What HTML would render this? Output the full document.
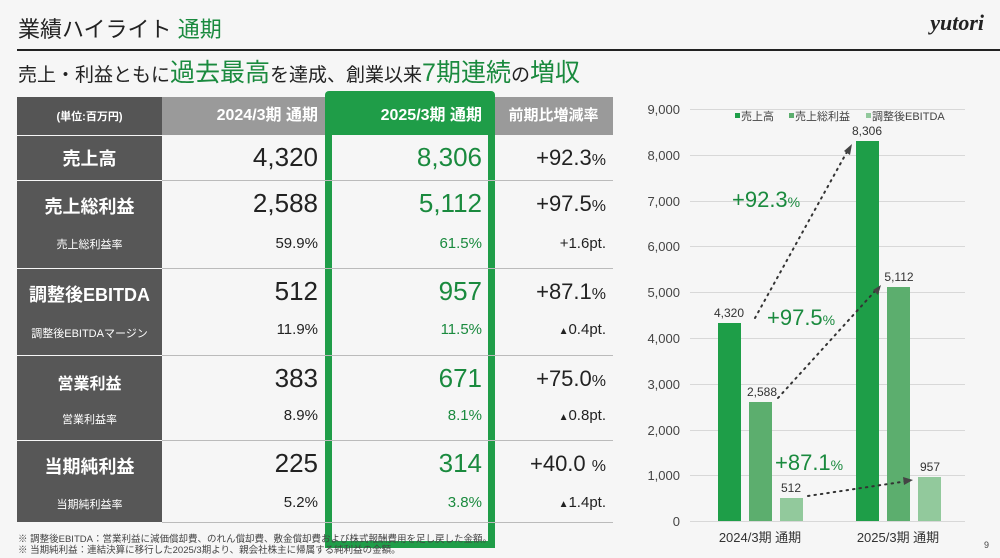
<!DOCTYPE html>
<html><head><meta charset="utf-8"><style>
*{margin:0;padding:0;box-sizing:border-box}
body{width:1000px;height:558px;background:#f6f6f6;position:relative;overflow:hidden;font-family:"Liberation Sans","Noto Sans CJK JP",sans-serif;color:#222}
.a{position:absolute;white-space:nowrap}
.l{position:absolute;left:17px;width:145px;background:#575757;color:#fff;font-weight:bold;text-align:center;display:flex;align-items:center;justify-content:center}
.v{position:absolute;text-align:right;white-space:nowrap}
.sep{position:absolute;height:1px;background:#bbb}
.g{color:#1a8a3e}
</style></head><body>
<div class="a" style="left:18px;top:12px;font-size:22px">業績ハイライト <span class="g">通期</span></div>
<div class="a" style="right:16px;top:10px;font-size:22px;font-weight:bold;font-style:italic;font-family:'Liberation Serif',serif">yutori</div>
<div class="a" style="left:17px;top:49px;width:983px;height:2px;background:#222"></div>
<div class="a" style="left:18px;top:58px;font-size:19px;line-height:30px">売上・利益ともに<span class="g" style="font-size:25px">過去最高</span>を達成、創業以来<span class="g" style="font-size:25px">7期連続</span>の<span class="g" style="font-size:25px">増収</span></div>

<!-- header -->
<div class="l" style="top:97px;height:38px;background:#555;font-size:11px">(単位:百万円)</div>
<div class="a" style="left:162px;top:97px;width:166px;height:38px;background:#9a9a9a"></div>
<div class="a" style="left:494px;top:97px;width:119px;height:38px;background:#9a9a9a;color:#fff;font-weight:bold;font-size:15px;text-align:center;line-height:38px">前期比増減率</div>
<div class="v" style="left:162px;width:156px;top:97px;line-height:38px;color:#fff;font-weight:bold;font-size:16px">2024/3期 通期</div>
<div class="a" style="left:325px;top:91px;width:170px;height:44px;background:#1f9d48;border-radius:4px 4px 0 0"></div>
<div class="v" style="left:330px;width:152px;top:97px;line-height:38px;color:#fff;font-weight:bold;font-size:16px">2025/3期 通期</div>
<div class="a" style="left:325px;top:130px;width:170px;height:418px;border:7px solid #1f9d48;border-top:none"></div>

<!-- rows labels -->
<div class="l" style="top:136px;height:44px;font-size:18px">売上高</div>
<div class="l" style="top:181px;height:87px;font-size:18px;align-items:flex-start;padding-top:12px">売上総利益</div>
<div class="a" style="left:17px;top:236px;width:145px;text-align:center;color:#fff;font-size:11px">売上総利益率</div>
<div class="l" style="top:269px;height:86px;font-size:18px;align-items:flex-start;padding-top:12px">調整後EBITDA</div>
<div class="a" style="left:17px;top:325px;width:145px;text-align:center;color:#fff;font-size:11px">調整後EBITDAマージン</div>
<div class="l" style="top:356px;height:84px;font-size:16px;align-items:flex-start;padding-top:14px">営業利益</div>
<div class="a" style="left:17px;top:411px;width:145px;text-align:center;color:#fff;font-size:11px">営業利益率</div>
<div class="l" style="top:441px;height:81px;font-size:18px;align-items:flex-start;padding-top:12px">当期純利益</div>
<div class="a" style="left:17px;top:496px;width:145px;text-align:center;color:#fff;font-size:11px">当期純利益率</div>

<div class="sep" style="left:162px;width:451px;top:180px"></div>
<div class="sep" style="left:162px;width:451px;top:268px"></div>
<div class="sep" style="left:162px;width:451px;top:355px"></div>
<div class="sep" style="left:162px;width:451px;top:440px"></div>
<div class="sep" style="left:162px;width:451px;top:522px"></div>

<!-- values -->
<div class="v" style="left:162px;width:156px;top:142px;font-size:26px">4,320</div>
<div class="v g" style="left:330px;width:152px;top:142px;font-size:26px">8,306</div>
<div class="v" style="left:494px;width:112px;top:145px;font-size:22px">+92.3<span style="font-size:16px">%</span></div>
<div class="v" style="left:162px;width:156px;top:188px;font-size:26px">2,588</div>
<div class="v g" style="left:330px;width:152px;top:188px;font-size:26px">5,112</div>
<div class="v" style="left:494px;width:112px;top:191px;font-size:22px">+97.5<span style="font-size:16px">%</span></div>
<div class="v" style="left:162px;width:156px;top:235px;font-size:15px">59.9%</div>
<div class="v g" style="left:330px;width:152px;top:235px;font-size:15px">61.5%</div>
<div class="v" style="left:494px;width:112px;top:235px;font-size:15px">+1.6pt.</div>

<div class="v" style="left:162px;width:156px;top:276px;font-size:26px">512</div>
<div class="v g" style="left:330px;width:152px;top:276px;font-size:26px">957</div>
<div class="v" style="left:494px;width:112px;top:279px;font-size:22px">+87.1<span style="font-size:16px">%</span></div>
<div class="v" style="left:162px;width:156px;top:321px;font-size:15px">11.9%</div>
<div class="v g" style="left:330px;width:152px;top:321px;font-size:15px">11.5%</div>
<div class="v" style="left:494px;width:112px;top:321px;font-size:15px"><span style="font-size:10px">▲</span>0.4pt.</div>

<div class="v" style="left:162px;width:156px;top:363px;font-size:26px">383</div>
<div class="v g" style="left:330px;width:152px;top:363px;font-size:26px">671</div>
<div class="v" style="left:494px;width:112px;top:366px;font-size:22px">+75.0<span style="font-size:16px">%</span></div>
<div class="v" style="left:162px;width:156px;top:407px;font-size:15px">8.9%</div>
<div class="v g" style="left:330px;width:152px;top:407px;font-size:15px">8.1%</div>
<div class="v" style="left:494px;width:112px;top:407px;font-size:15px"><span style="font-size:10px">▲</span>0.8pt.</div>

<div class="v" style="left:162px;width:156px;top:448px;font-size:26px">225</div>
<div class="v g" style="left:330px;width:152px;top:448px;font-size:26px">314</div>
<div class="v" style="left:494px;width:112px;top:451px;font-size:22px">+40.0 <span style="font-size:16px">%</span></div>
<div class="v" style="left:162px;width:156px;top:494px;font-size:15px">5.2%</div>
<div class="v g" style="left:330px;width:152px;top:494px;font-size:15px">3.8%</div>
<div class="v" style="left:494px;width:112px;top:494px;font-size:15px"><span style="font-size:10px">▲</span>1.4pt.</div>

<div class="a" style="left:18px;top:534px;font-size:9.5px;color:#444;line-height:11px">※ 調整後EBITDA：営業利益に減価償却費、のれん償却費、敷金償却費および株式報酬費用を足し戻した金額。<br>※ 当期純利益：連結決算に移行した2025/3期より、親会社株主に帰属する純利益の金額。</div>
<div class="a" style="left:984px;top:540px;font-size:9px;color:#444">9</div>

<svg class="a" style="left:0;top:0" width="1000" height="558">
<g font-family="Liberation Sans,sans-serif" font-size="13" fill="#444" text-anchor="end">
<g stroke="#d8d8d8" stroke-width="1">
<line x1="690" x2="965" y1="109.5" y2="109.5"/><line x1="690" x2="965" y1="155.5" y2="155.5"/><line x1="690" x2="965" y1="201.5" y2="201.5"/><line x1="690" x2="965" y1="246.5" y2="246.5"/><line x1="690" x2="965" y1="292.5" y2="292.5"/><line x1="690" x2="965" y1="338.5" y2="338.5"/><line x1="690" x2="965" y1="384.5" y2="384.5"/><line x1="690" x2="965" y1="430.5" y2="430.5"/><line x1="690" x2="965" y1="475.5" y2="475.5"/><line x1="690" x2="965" y1="521.5" y2="521.5"/>
</g>
<text x="680" y="114">9,000</text><text x="680" y="160">8,000</text><text x="680" y="206">7,000</text><text x="680" y="251">6,000</text><text x="680" y="297">5,000</text><text x="680" y="343">4,000</text><text x="680" y="389">3,000</text><text x="680" y="435">2,000</text><text x="680" y="480">1,000</text><text x="680" y="526">0</text>
</g>
<rect x="718" y="323" width="23" height="198" fill="#1e9e48"/>
<rect x="749" y="402" width="23" height="119" fill="#5cae6e"/>
<rect x="780" y="498" width="23" height="23" fill="#92c99c"/>
<rect x="856" y="141" width="23" height="380" fill="#1e9e48"/>
<rect x="887" y="287" width="23" height="234" fill="#5cae6e"/>
<rect x="918" y="477" width="23" height="44" fill="#92c99c"/>
<g font-family="Liberation Sans,sans-serif" font-size="12" fill="#333" text-anchor="middle">
<text x="729" y="317">4,320</text><text x="762" y="396">2,588</text><text x="791" y="492">512</text>
<text x="867" y="135">8,306</text><text x="899" y="281">5,112</text><text x="930" y="471">957</text>
</g>
<g stroke="#333" stroke-width="2" stroke-dasharray="1.5 5" stroke-linecap="round" fill="none">
<line x1="755" y1="318" x2="848" y2="150"/>
<line x1="778" y1="398" x2="876" y2="290"/>
<line x1="808" y1="496" x2="908" y2="481"/>
</g>
<polygon points="852,144 850,155 844,151" fill="#444"/>
<polygon points="881,285 878,295 873,290" fill="#444"/>
<polygon points="913,480 904,485 903,477" fill="#444"/>
<g font-family="Liberation Sans,sans-serif" fill="#1a8a3e">
<text x="732" y="207" font-size="22">+92.3<tspan font-size="14">%</tspan></text>
<text x="767" y="325" font-size="22">+97.5<tspan font-size="14">%</tspan></text>
<text x="775" y="470" font-size="22">+87.1<tspan font-size="14">%</tspan></text>
</g>
<g font-family="Liberation Sans,Noto Sans CJK JP,sans-serif" font-size="11" fill="#444">
<rect x="735" y="113" width="5" height="5" fill="#1e9e48"/><text x="741" y="120">売上高</text>
<rect x="789" y="113" width="5" height="5" fill="#5cae6e"/><text x="795" y="120">売上総利益</text>
<rect x="866" y="113" width="5" height="5" fill="#92c99c"/><text x="872" y="120">調整後EBITDA</text>
</g>
<g font-family="Liberation Sans,Noto Sans CJK JP,sans-serif" font-size="13" fill="#333" text-anchor="middle">
<text x="760" y="542">2024/3期 通期</text><text x="898" y="542">2025/3期 通期</text>
</g>
</svg>
</body></html>
